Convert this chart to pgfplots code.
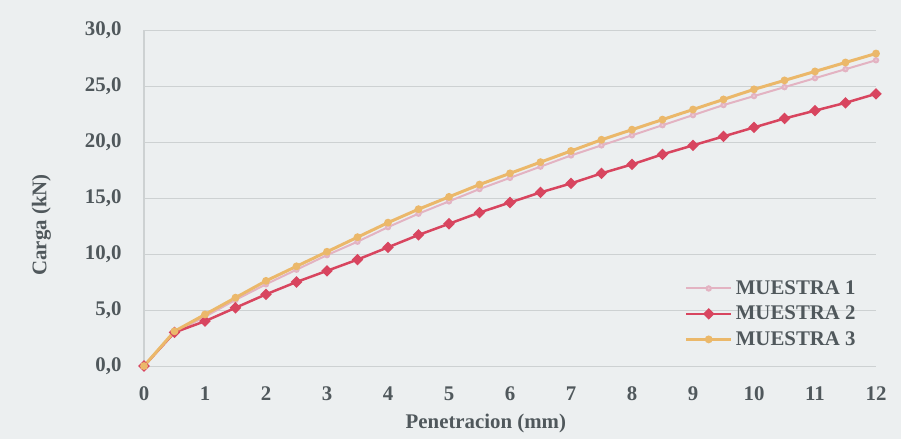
\documentclass[border=0pt]{standalone}
\usepackage{pgfplots}
\pgfplotsset{compat=1.18}
\usepackage{fontspec}
\setmainfont{Liberation Serif}

\definecolor{bgc}{HTML}{ECEFF0}
\definecolor{gridc}{HTML}{CDD1D2}
\definecolor{txt}{HTML}{50585C}
\definecolor{m1}{HTML}{E3B3C2}
\definecolor{m2}{HTML}{D8455F}
\definecolor{m3}{HTML}{EBB86A}

\begin{document}
\begin{tikzpicture}
% photo-like background, also fixes the page size (1px = 0.6pt)
\fill[bgc] (-86.4pt,-43.8pt) rectangle (454.2pt,219.6pt);
\begin{axis}[
    scale only axis,
    width=439.2pt, height=201.6pt,
    xmin=0, xmax=12, ymin=0, ymax=30,
    xtick={0,1,...,12}, ytick={0,5,...,30},
    ymajorgrids, grid style={gridc, line width=0.6pt},
    axis x line*=bottom, axis y line*=left,
    x axis line style={draw=none},
    y axis line style={gridc, line width=0.8pt},
    major tick length=0pt,
    tick label style={font=\bfseries\fontsize{12.5}{12.5}\selectfont, text=txt},
    /pgf/number format/assume math mode=true,
    xticklabel style={/tikz/yshift=-9pt},
    yticklabel style={/tikz/xshift=-10pt},
    yticklabel style={/pgf/number format/.cd, fixed, fixed zerofill, precision=1, use comma},
    xlabel={\textbf{Penetracion (mm)}},
    ylabel={\textbf{Carga (kN)}},
    xlabel style={at={(axis description cs:0.467,-0.172)}, anchor=center, font=\fontsize{12.5}{12.5}\selectfont, text=txt},
    ylabel style={at={(axis description cs:-0.14,0.42)}, anchor=center, font=\fontsize{12.5}{12.5}\selectfont, text=txt},
    clip=false,
    legend style={at={(axis description cs:0.984,0.155)}, anchor=east, draw=none, fill=none,
        font=\bfseries\fontsize{12.5}{14.5}\selectfont, text=txt, row sep=1.5pt,
        /tikz/every even column/.append style={column sep=0pt}},
    legend cell align=left,
    legend image code/.code={\draw[mark repeat=2,mark phase=2] plot coordinates {(0cm,0cm) (0.47cm,0cm) (0.94cm,0cm)};},
]
\addplot[m1, line width=1.2pt, mark=*, mark size=1.3pt, mark options={fill=m1!70!white, draw=m1}] coordinates {
(0,0) (0.5,3.0) (1,4.4) (1.5,5.9) (2,7.3) (2.5,8.6) (3,9.9) (3.5,11.1) (4,12.4) (4.5,13.6)
(5,14.7) (5.5,15.8) (6,16.8) (6.5,17.8) (7,18.8) (7.5,19.7) (8,20.6) (8.5,21.5) (9,22.4)
(9.5,23.3) (10,24.1) (10.5,24.9) (11,25.7) (11.5,26.5) (12,27.3)};
\addlegendentry{MUESTRA 1}
\addplot[m2, line width=1.5pt, mark=diamond*, mark size=3.2pt, mark options={fill=m2, draw=m2, yscale=0.75}] coordinates {
(0,0) (0.5,3.0) (1,4.0) (1.5,5.2) (2,6.4) (2.5,7.5) (3,8.5) (3.5,9.5) (4,10.6) (4.5,11.7)
(5,12.7) (5.5,13.7) (6,14.6) (6.5,15.5) (7,16.3) (7.5,17.2) (8,18.0) (8.5,18.9) (9,19.7)
(9.5,20.5) (10,21.3) (10.5,22.1) (11,22.8) (11.5,23.5) (12,24.3)};
\addlegendentry{MUESTRA 2}
\addplot[m3, line width=1.8pt, mark=*, mark size=1.4pt, mark options={fill=m3, draw=m3}] coordinates {
(0,0) (0.5,3.1) (1,4.6) (1.5,6.1) (2,7.6) (2.5,8.9) (3,10.2) (3.5,11.5) (4,12.8) (4.5,14.0)
(5,15.1) (5.5,16.2) (6,17.2) (6.5,18.2) (7,19.2) (7.5,20.2) (8,21.1) (8.5,22.0) (9,22.9)
(9.5,23.8) (10,24.7) (10.5,25.5) (11,26.3) (11.5,27.1) (12,27.9)};
\addlegendentry{MUESTRA 3}
\end{axis}
\end{tikzpicture}
\end{document}
